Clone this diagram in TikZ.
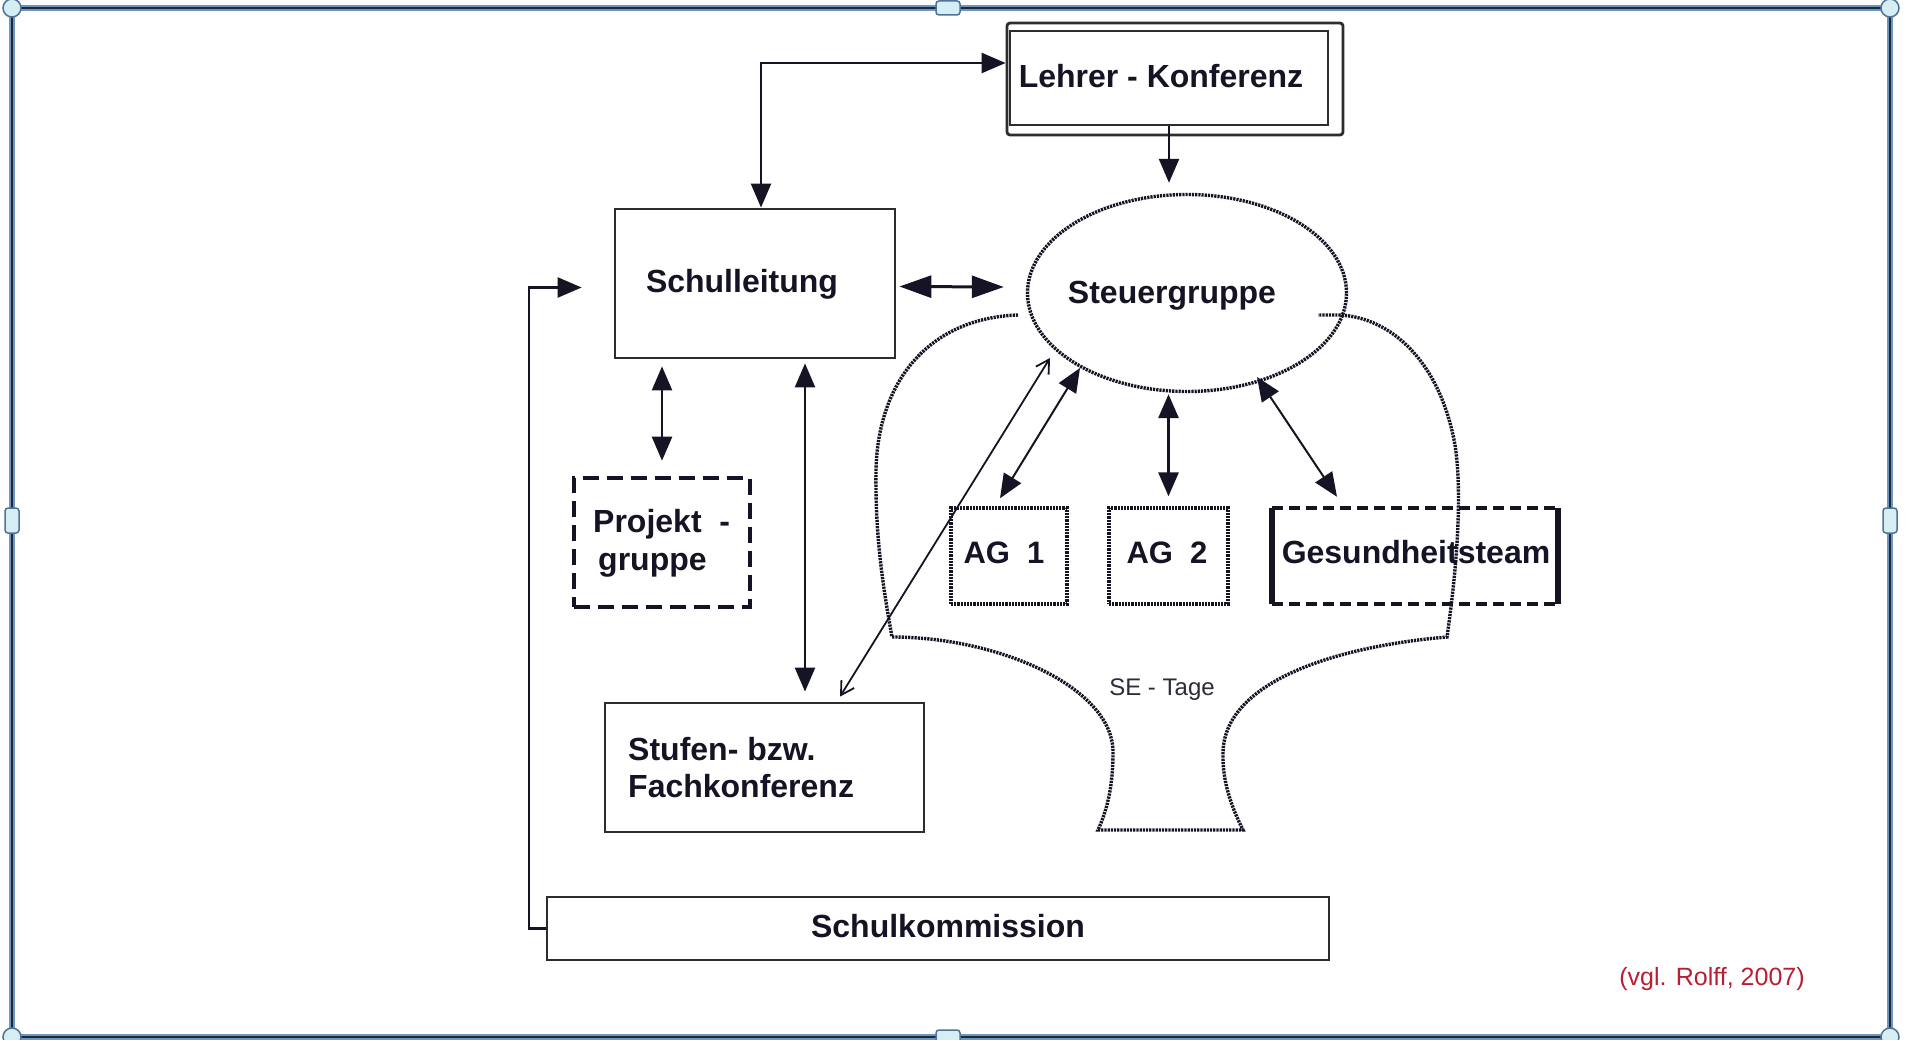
\documentclass[tikz,border=0pt]{standalone}
\usepackage{fontspec}
\setmainfont{Liberation Sans}
\usetikzlibrary{arrows.meta,shapes.geometric,calc}

\definecolor{ink}{RGB}{20,20,36}
\definecolor{edge}{RGB}{45,45,45}
\definecolor{framedark}{RGB}{28,40,60}
\definecolor{frameglow}{RGB}{110,150,190}
\definecolor{handlefill}{RGB}{212,238,244}
\definecolor{handleedge}{RGB}{80,115,150}
\definecolor{citered}{RGB}{185,30,50}

\tikzset{
  bigtri/.tip={Triangle[length=24pt,width=20pt]},
  longtri/.tip={Triangle[length=32pt,width=22pt]},
  barb/.tip={Straight Barb[length=13pt,width=15pt,line width=1.8pt]},
  lbl/.style={font=\bfseries\fontsize{32}{38}\selectfont, text=ink, inner sep=0pt},
  small/.style={font=\fontsize{24}{28}\selectfont, text=ink!90, inner sep=0pt},
  box/.style={draw=edge, line width=2.8pt, rectangle, inner sep=0pt},
  dotline/.style={draw=ink, line width=3.4pt, dash pattern=on 2.2pt off 1pt},
  dotbox/.style={dotline, rectangle, inner sep=0pt},
  dashbox/.style={draw=ink, line width=4.6pt, dash pattern=on 16pt off 8pt, rectangle, inner sep=0pt},
  gtdash/.style={draw=ink, line width=4pt, dash pattern=on 11pt off 6pt},
  conn/.style={draw=ink, line width=2.4pt},
  both/.style={conn, bigtri-bigtri},
  single/.style={conn, -bigtri},
  thinboth/.style={draw=ink, line width=1.8pt, barb-barb},
  handle/.style={fill=handlefill, draw=handleedge, line width=1.5pt, rounded corners=3pt}
}

\begin{document}
\begin{tikzpicture}[x=1pt,y=-1pt]
\useasboundingbox (0,0) rectangle (1906,1040);
\fill[white] (0,0) rectangle (1906,1040);

% selection frame with its handles
\draw[frameglow, line width=6pt] (12,8) rectangle (1890,1037);
\draw[framedark, line width=2.8pt] (12,8) rectangle (1890,1037);
\foreach \cx/\cy in {12/8,1890/8,12/1037,1890/1037}
  \filldraw[fill=handlefill, draw=handleedge, line width=1.5pt] (\cx,\cy) circle (9pt);
\filldraw[handle] (936,1) rectangle (960,15);
\filldraw[handle] (936,1030) rectangle (960,1044);
\filldraw[handle] (5,508) rectangle (19,533);
\filldraw[handle] (1883,508) rectangle (1897,533);

% SE-Tage outline (bell shape around the working groups)
\draw[dotline]
  (1018,315) .. controls (930,318) and (878,380) .. (876,470)
  .. controls (875,540) and (884,592) .. (892,637)
  .. controls (1000,637) and (1113,688) .. (1113,752)
  .. controls (1113,790) and (1106,812) .. (1098,830)
  -- (1243,830)
  .. controls (1232,808) and (1222,782) .. (1223,752)
  .. controls (1225,680) and (1340,646) .. (1447,637)
  .. controls (1458,560) and (1462,490) .. (1455,445)
  .. controls (1440,362) and (1392,318) .. (1340,315)
  -- (1318,315);
\node[small] (se) at (1162,690) {SE - Tage};

% boxes
\node[box, rounded corners=3pt, minimum width=336pt, minimum height=112pt] (lkout) at (1175,79) {};
\node[box, minimum width=318pt, minimum height=94pt] (lk) at (1169,78) {};
\node[lbl, anchor=base] (lkt) at (1161,88) {Lehrer - Konferenz};

\node[box, minimum width=280pt, minimum height=149pt] (sl) at (755,283.5) {};
\node[lbl, anchor=base] (slt) at (742,293) {Schulleitung};

\node[dotline, ellipse, inner sep=0pt, minimum width=319pt, minimum height=197pt] (sg) at (1187,293) {};
\node[lbl, anchor=base] (sgt) at (1172,304) {Steuergruppe};

\node[dashbox, minimum width=176pt, minimum height=129pt] (pg) at (662,542.5) {};
\node[lbl, anchor=base west] (pgt1) at (593,532) {Projekt~~-};
\node[lbl, anchor=base west] (pgt2) at (598,570) {gruppe};

\node[dotbox, minimum width=116pt, minimum height=96pt] (ag1) at (1009,556) {};
\node[lbl, font=\bfseries\fontsize{31}{36}\selectfont, anchor=base] (ag1t) at (1004,563) {AG~~1};
\node[dotbox, minimum width=119pt, minimum height=96pt] (ag2) at (1168.5,556) {};
\node[lbl, font=\bfseries\fontsize{31}{36}\selectfont, anchor=base] (ag2t) at (1167,563) {AG~~2};

\node[rectangle, inner sep=0pt, minimum width=286pt, minimum height=96pt] (gt) at (1415,556) {};
\draw[gtdash] (gt.north west) -- (gt.north east);
\draw[gtdash] (gt.south west) -- (gt.south east);
\draw[ink, line width=5.5pt] (gt.north west) -- (gt.south west);
\draw[ink, line width=5.5pt] (gt.north east) -- (gt.south east);
\node[lbl, anchor=base] (gtt) at (1416,563) {Gesundheitsteam};

\node[box, minimum width=319pt, minimum height=129pt] (sf) at (764.5,767.5) {};
\node[lbl, anchor=base west] (sft1) at (628,760) {Stufen- bzw.};
\node[lbl, anchor=base west] (sft2) at (628,797) {Fachkonferenz};

\node[box, line width=2.6pt, minimum width=782pt, minimum height=63pt] (sk) at (938,928.5) {};
\node[lbl, anchor=base] (skt) at (948,937) {Schulkommission};

\node[font=\fontsize{25}{30}\selectfont, text=citered, inner sep=0pt, anchor=base] (ref) at (1712,985) {(vgl. Rolff, 2007)};

% connectors
\draw[both] ($(sl.north)+(6,0)$) |- ($(lkout.west)+(0,-16)$);
\draw[single] (lk.south) -- ($(lk.south |- sg.north)+(0,-10)$);
\draw[conn, line width=3pt, longtri-longtri] ($(sl.east)+(3,3)$) -- ($(sg.west)+(-22,-6)$);
\draw[both] ($(pg.north |- sl.south)+(0,7)$) -- ($(pg.north)+(0,-15)$);
\draw[both] ($(sl.south)+(50,4)$) -- ($(sf.north)+(40.5,-10)$);
\draw[thinboth] ($(sg.center)+(-137,65)$) -- ($(sf.north)+(75.5,-5)$);
\draw[both, line width=2pt] ($(sg.center)+(-107,75)$) -- ($(ag1.north)+(-9,-8)$);
\draw[both, line width=3pt] ($(ag2.north |- sg.south)+(0,1)$) -- ($(ag2.north)+(0,-10)$);
\draw[both, line width=2pt] ($(sg.center)+(70,84)$) -- ($(gt.north)+(-78,-11)$);
\draw[single] (sk.west) -- ++(-17,0) |- ($(sl.west)+(-32,4)$);
\end{tikzpicture}
\end{document}
